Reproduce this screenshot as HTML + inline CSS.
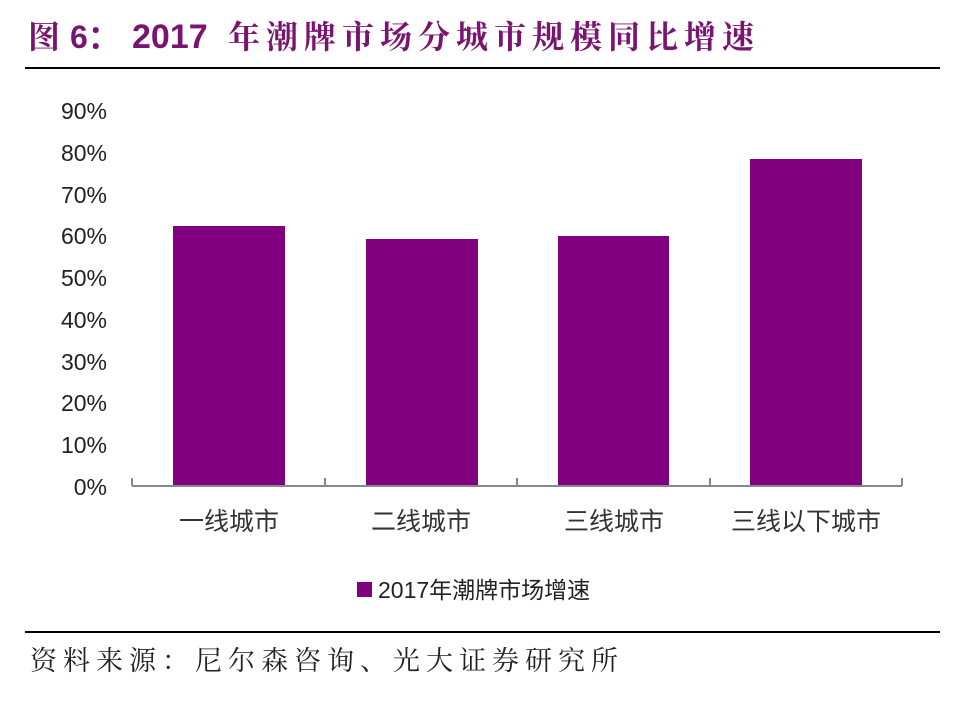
<!DOCTYPE html>
<html><head><meta charset="utf-8"><style>
body{margin:0;background:#fff;width:960px;height:702px;overflow:hidden}
svg{display:block}
</style></head><body>
<svg width="960" height="702" xmlns="http://www.w3.org/2000/svg">
<g font-family="'Liberation Sans','Noto Serif CJK SC',serif" font-size="32" font-weight="bold" fill="#7a1470">
<text x="28" y="48">图</text>
<text x="70" y="48" font-family="'Liberation Sans',sans-serif">6：</text>
<text x="132" y="48" font-family="'Liberation Sans',sans-serif" font-size="34">2017</text>
<text x="228" y="48" letter-spacing="6">年潮牌市场分城市规模同比增速</text>
</g>
<line x1="25" y1="68" x2="940" y2="68" stroke="#000" stroke-width="2"/>
<g font-family="'Liberation Sans',sans-serif" font-size="23" fill="#222" text-anchor="end">
<text x="107" y="495">0%</text><text x="107" y="453">10%</text><text x="107" y="411">20%</text>
<text x="107" y="370">30%</text><text x="107" y="328">40%</text><text x="107" y="286">50%</text>
<text x="107" y="244">60%</text><text x="107" y="203">70%</text><text x="107" y="161">80%</text>
<text x="107" y="119">90%</text>
</g>
<g fill="#800080">
<rect x="173" y="226" width="112" height="261"/>
<rect x="366" y="239" width="112" height="248"/>
<rect x="558" y="236" width="111" height="251"/>
<rect x="750" y="159" width="112" height="328"/>
</g>
<g stroke="#888" stroke-width="2" fill="none">
<line x1="132" y1="486" x2="902" y2="486"/>
<line x1="132" y1="478" x2="132" y2="486"/><line x1="325" y1="478" x2="325" y2="486"/>
<line x1="517" y1="478" x2="517" y2="486"/><line x1="710" y1="478" x2="710" y2="486"/>
<line x1="902" y1="478" x2="902" y2="486"/>
</g>
<g font-family="'Liberation Sans','Noto Sans CJK SC',sans-serif" font-size="25" fill="#333" text-anchor="middle">
<text x="229" y="530">一线城市</text><text x="421" y="530">二线城市</text>
<text x="614" y="530">三线城市</text><text x="806" y="530">三线以下城市</text>
</g>
<rect x="357" y="582" width="15" height="15" fill="#800080"/>
<text x="378" y="598" font-family="'Liberation Sans','Noto Sans CJK SC',sans-serif" font-size="23" fill="#222">2017年潮牌市场增速</text>
<line x1="25" y1="632" x2="940" y2="632" stroke="#000" stroke-width="2"/>
<text x="30" y="670" font-family="'Liberation Sans','Noto Serif CJK SC',serif" font-size="27" letter-spacing="6" fill="#222">资料来源：尼尔森咨询、光大证券研究所</text>
</svg>
</body></html>
